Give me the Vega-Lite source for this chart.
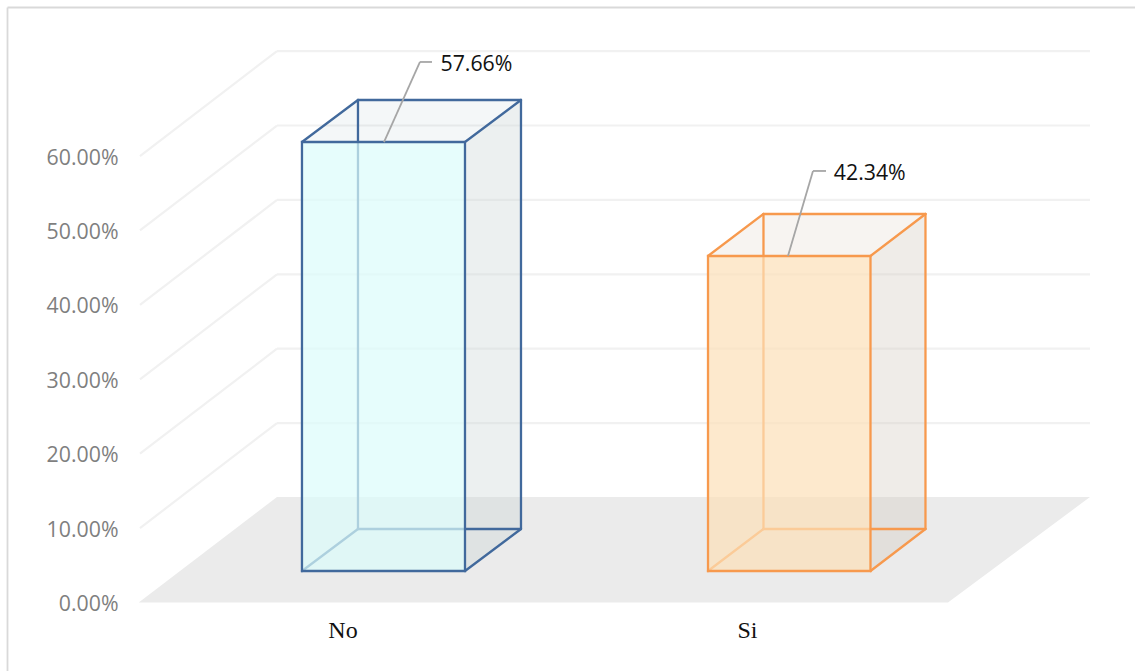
{
  "$schema": "https://vega.github.io/schema/vega-lite/v6.json",
  "width": 1135,
  "height": 671,
  "padding": 0,
  "autosize": "none",
  "background": "#ffffff",
  "config": {"view": {"stroke": null}},
  "encoding": {
    "x": {
      "field": "x", "type": "quantitative",
      "scale": {"domain": [0.0543, 2.8533], "nice": false, "zero": false},
      "axis": {
        "orient": "bottom", "offset": -68.5, "title": null, "domain": false, "ticks": false, "grid": false,
        "values": [0.8989, 1.8965],
        "labelExpr": "datum.value < 1.5 ? 'No' : 'Si'",
        "labelFont": "Liberation Serif", "labelFontSize": 24, "labelColor": "#111111", "labelPadding": 16
      }
    },
    "y": {
      "field": "y", "type": "quantitative",
      "scale": {"domain": [-9.207, 80.98], "nice": false, "zero": false},
      "axis": {
        "orient": "left", "offset": -118, "title": null, "domain": false, "ticks": false, "grid": false,
        "values": [0, 10, 20, 30, 40, 50, 60],
        "labelExpr": "format(datum.value, '.2f') + '%'",
        "labelFont": "Open Sans", "labelFontSize": 21.3, "labelColor": "#7f7f7f", "labelPadding": 0, "labelOffset": 2
      }
    }
  },
  "layer": [
    {
      "description": "Outer frame of the chart area",
      "data": {"values": [
        {"x": 0.0728, "x2": 0.0728, "y": 79.97, "y2": -9.207},
        {"x": 0.0728, "x2": 2.8533, "y": 79.97, "y2": 79.97}
      ]},
      "mark": {"type": "rule", "stroke": "#d9d9d9", "strokeWidth": 1.8},
      "encoding": {"x2": {"field": "x2"}, "y2": {"field": "y2"}}
    },
    {
      "description": "Gridlines folded along the side wall and the back wall",
      "data": {"values": [
        {"x": 0.3995, "x2": 0.7374, "y": 10, "y2": 24.11},
        {"x": 0.7374, "x2": 2.7423, "y": 24.11, "y2": 24.11},
        {"x": 0.3995, "x2": 0.7374, "y": 20, "y2": 34.11},
        {"x": 0.7374, "x2": 2.7423, "y": 34.11, "y2": 34.11},
        {"x": 0.3995, "x2": 0.7374, "y": 30, "y2": 44.11},
        {"x": 0.7374, "x2": 2.7423, "y": 44.11, "y2": 44.11},
        {"x": 0.3995, "x2": 0.7374, "y": 40, "y2": 54.11},
        {"x": 0.7374, "x2": 2.7423, "y": 54.11, "y2": 54.11},
        {"x": 0.3995, "x2": 0.7374, "y": 50, "y2": 64.11},
        {"x": 0.7374, "x2": 2.7423, "y": 64.11, "y2": 64.11},
        {"x": 0.3995, "x2": 0.7374, "y": 60, "y2": 74.11},
        {"x": 0.7374, "x2": 2.7423, "y": 74.11, "y2": 74.11}
      ]},
      "mark": {"type": "rule", "stroke": "#f1f1f1", "strokeWidth": 2.2},
      "encoding": {"x2": {"field": "x2"}, "y2": {"field": "y2"}}
    },
    {
      "description": "Floor of the 3D plot",
      "data": {"values": [
        {"x": 0.3965, "x2": 2.3921, "y": 0},
        {"x": 0.7374, "x2": 2.7423, "y": 14.18}
      ]},
      "mark": {"type": "area", "orient": "horizontal", "fill": "#ebebeb"},
      "encoding": {"x2": {"field": "x2"}}
    },
    {
      "description": "Top faces of the boxes",
      "data": {"values": [
        {"face": "No top", "x": 0.799, "x2": 1.201, "y": 61.89},
        {"face": "No top", "x": 0.9371, "x2": 1.3391, "y": 67.54},
        {"face": "Si top", "x": 1.8003, "x2": 2.201, "y": 46.57},
        {"face": "Si top", "x": 1.9371, "x2": 2.3366, "y": 52.22}
      ]},
      "mark": {"type": "area", "orient": "horizontal", "opacity": 0.06},
      "encoding": {
        "x2": {"field": "x2"},
        "fill": {"field": "face", "type": "nominal", "legend": null,
          "scale": {
            "domain": ["No top", "Si top", "No side", "Si side", "No", "Si"],
            "range": ["#407f80", "#7a4816", "#cdd8d8", "#d5cdc3", "#dcfcfb", "#fce0b8"]
          }
        }
      }
    },
    {
      "description": "Side faces of the boxes",
      "data": {"values": [
        {"face": "No side", "x": 1.201, "y": 61.89, "y2": 4.23},
        {"face": "No side", "x": 1.3391, "y": 67.54, "y2": 9.88},
        {"face": "Si side", "x": 2.201, "y": 46.57, "y2": 4.23},
        {"face": "Si side", "x": 2.3366, "y": 52.22, "y2": 9.88}
      ]},
      "mark": {"type": "area", "orient": "vertical", "opacity": 0.38},
      "encoding": {
        "y2": {"field": "y2"},
        "fill": {"field": "face", "type": "nominal", "legend": null}
      }
    },
    {
      "description": "Box edges behind the front face",
      "data": {"values": [
        {"category": "No", "x": 0.9371, "x2": 0.9371, "y": 9.88, "y2": 67.54},
        {"category": "No", "x": 1.3391, "x2": 1.3391, "y": 9.88, "y2": 67.54},
        {"category": "No", "x": 0.9371, "x2": 1.3391, "y": 67.54, "y2": 67.54},
        {"category": "No", "x": 0.9371, "x2": 1.3391, "y": 9.88, "y2": 9.88},
        {"category": "No", "x": 0.799, "x2": 0.9371, "y": 61.89, "y2": 67.54},
        {"category": "No", "x": 1.201, "x2": 1.3391, "y": 61.89, "y2": 67.54},
        {"category": "No", "x": 0.799, "x2": 0.9371, "y": 4.23, "y2": 9.88},
        {"category": "No", "x": 1.201, "x2": 1.3391, "y": 4.23, "y2": 9.88},
        {"category": "Si", "x": 1.9371, "x2": 1.9371, "y": 9.88, "y2": 52.22},
        {"category": "Si", "x": 2.3366, "x2": 2.3366, "y": 9.88, "y2": 52.22},
        {"category": "Si", "x": 1.9371, "x2": 2.3366, "y": 52.22, "y2": 52.22},
        {"category": "Si", "x": 1.9371, "x2": 2.3366, "y": 9.88, "y2": 9.88},
        {"category": "Si", "x": 1.8003, "x2": 1.9371, "y": 46.57, "y2": 52.22},
        {"category": "Si", "x": 2.201, "x2": 2.3366, "y": 46.57, "y2": 52.22},
        {"category": "Si", "x": 1.8003, "x2": 1.9371, "y": 4.23, "y2": 9.88},
        {"category": "Si", "x": 2.201, "x2": 2.3366, "y": 4.23, "y2": 9.88}
      ]},
      "mark": {"type": "rule", "strokeWidth": 2.3, "strokeCap": "round"},
      "encoding": {
        "x2": {"field": "x2"},
        "y2": {"field": "y2"},
        "stroke": {"field": "category", "type": "nominal", "legend": null,
          "scale": {"domain": ["No", "Si"], "range": ["#41699c", "#f7994d"]}
        }
      }
    },
    {
      "description": "Front face of each box, drawn from its value and lifted by the floor depth",
      "data": {"values": [
        {"face": "No", "category": "No", "value": 57.66, "left": 0.799, "right": 1.201},
        {"face": "Si", "category": "Si", "value": 42.34, "left": 1.8003, "right": 2.201}
      ]},
      "mark": {"type": "rect", "yOffset": -31.5, "y2Offset": -31.5, "fillOpacity": 0.7, "strokeWidth": 2.3},
      "encoding": {
        "x": {"field": "left", "type": "quantitative"},
        "x2": {"field": "right"},
        "y": {"field": "value", "type": "quantitative"},
        "y2": {"datum": 0},
        "fill": {"field": "face", "type": "nominal", "legend": null},
        "stroke": {"field": "category", "type": "nominal", "legend": null}
      }
    },
    {
      "description": "Leader lines from the boxes to their labels",
      "data": {"values": [
        {"x": 1.0012, "x2": 1.09, "y": 61.89, "y2": 72.65},
        {"x": 1.09, "x2": 1.1196, "y": 72.65, "y2": 72.65},
        {"x": 1.9975, "x2": 2.0592, "y": 46.57, "y2": 58},
        {"x": 2.0592, "x2": 2.0913, "y": 58, "y2": 58}
      ]},
      "mark": {"type": "rule", "stroke": "#a6a6a6", "strokeWidth": 1.8},
      "encoding": {"x2": {"field": "x2"}, "y2": {"field": "y2"}}
    },
    {
      "description": "Value labels",
      "data": {"values": [
        {"label": "57.66%", "x": 1.1405, "y": 72.27},
        {"label": "42.34%", "x": 2.1105, "y": 57.63}
      ]},
      "mark": {"type": "text", "align": "left", "baseline": "middle", "font": "Open Sans", "fontSize": 21.3, "fill": "#111111"},
      "encoding": {"text": {"field": "label", "type": "nominal"}}
    }
  ]
}
